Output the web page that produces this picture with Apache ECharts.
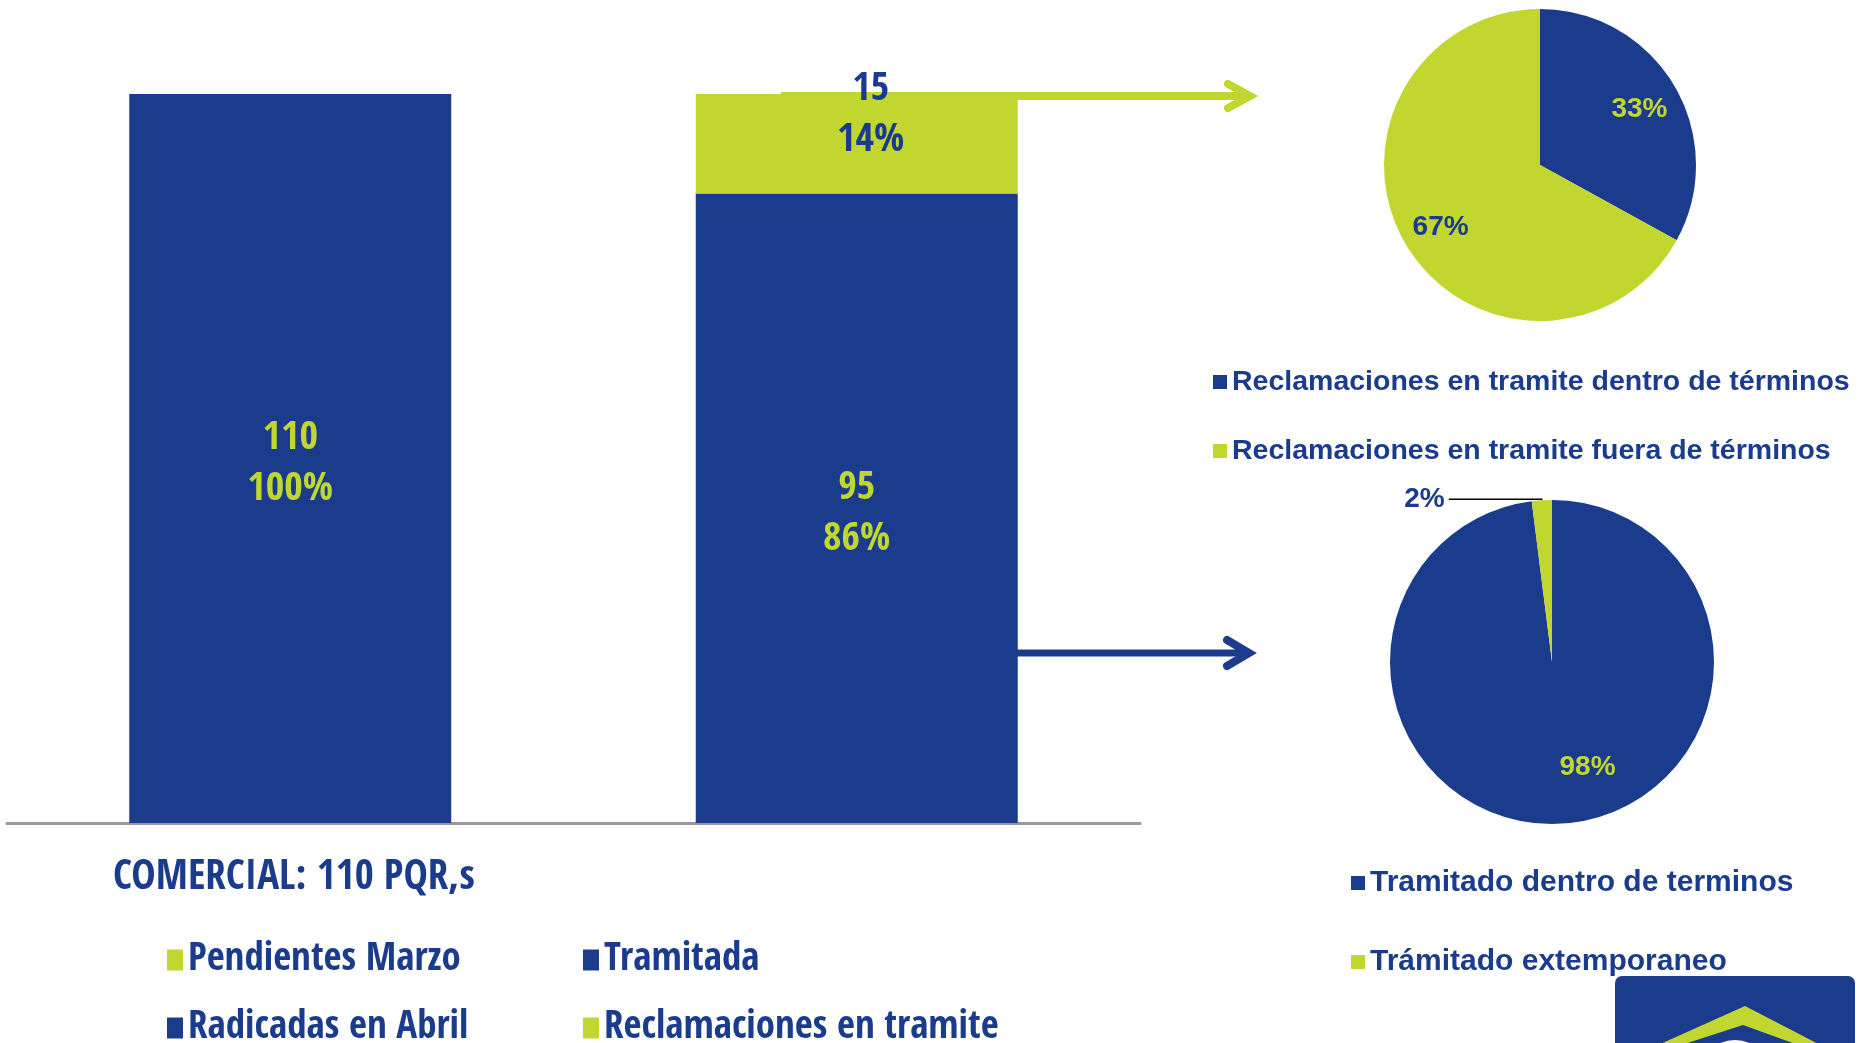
<!DOCTYPE html>
<html>
<head>
<meta charset="utf-8">
<title>COMERCIAL: 110 PQR,s</title>
<script src="https://cdn.jsdelivr.net/npm/echarts@6/dist/echarts.min.js"></script>
<style>
  html, body { margin: 0; padding: 0; background: #fff; }
  #main { width: 1858px; height: 1043px; }
</style>
</head>
<body>
<div id="main"></div>
<script>
// bar chart data
const categories = ['Radicadas', 'Estado'];
const pendientesMarzo = [0, '-'];
const radicadasAbril = [110, '-'];
const tramitada = ['-', 95];
const reclamacionesTramite = ['-', 15];

// pie data (percent)
const pieReclamacionesNames = ['Reclamaciones en tramite dentro de términos', 'Reclamaciones en tramite fuera de términos'];
const pieReclamacionesValues = [33, 67];
const pieTramitadoNames = ['Tramitado dentro de terminos', 'Trámitado extemporaneo'];
const pieTramitadoValues = [98, 2];

const BLUE = '#1b3c8d';
const GREEN = '#c1d72f';
const NARROW = "'Open Sans Condensed', 'Roboto Condensed', sans-serif";
const SANS = "'Liberation Sans', Arial, sans-serif";

const barData = [pendientesMarzo, radicadasAbril, tramitada, reclamacionesTramite];
const totals = categories.map((c, i) =>
  barData.reduce((s, arr) => s + (typeof arr[i] === 'number' ? arr[i] : 0), 0));

function barSeries(name, data, color, labelColor, offset) {
  return {
    name: name,
    type: 'bar',
    stack: 'total',
    data: data,
    barWidth: 322,
    itemStyle: { color: color },
    label: {
      show: true,
      position: 'inside',
      offset: offset,
      color: labelColor,
      fontFamily: NARROW,
      fontWeight: 'bold',
      fontSize: 40,
      lineHeight: 51,
      formatter: function (p) {
        if (!p.value) return '';
        return p.value + '\n' + Math.round(p.value / totals[p.dataIndex] * 100) + '%';
      }
    }
  };
}

// one legend per item so the 2x2 block sits where the reference has it
function barLegend(name, left, top) {
  return {
    data: [name], left: left, top: top, icon: 'rect', padding: 0,
    itemWidth: 16, itemHeight: 21, selectedMode: false,
    textStyle: { fontFamily: NARROW, fontWeight: 'bold', fontSize: 39, lineHeight: 44, color: BLUE }
  };
}

const pieLabel = { fontFamily: SANS, fontWeight: 'bold', fontSize: 28 };

const chart = echarts.init(document.getElementById('main'));
chart.setOption({
  animation: false,
  backgroundColor: '#fff',
  title: {
    text: 'COMERCIAL: 110 PQR,s',
    left: 108,
    top: 853,
    textStyle: { fontFamily: NARROW, fontWeight: 'bold', fontSize: 41, color: BLUE }
  },
  legend: [
    barLegend('Pendientes Marzo', 167, 938),
    barLegend('Radicadas en Abril', 167, 1006),
    barLegend('Tramitada', 583, 938),
    barLegend('Reclamaciones en tramite', 583, 1006),
    {
      data: pieReclamacionesNames,
      orient: 'vertical', left: 1213, top: 365, icon: 'rect', padding: 0,
      itemWidth: 14, itemHeight: 14, itemGap: 35, selectedMode: false,
      textStyle: { fontFamily: SANS, fontWeight: 'bold', fontSize: 28.5, lineHeight: 34, color: BLUE }
    },
    {
      data: pieTramitadoNames,
      orient: 'vertical', left: 1351, top: 866, icon: 'rect', padding: 0,
      itemWidth: 14, itemHeight: 14, itemGap: 45, selectedMode: false,
      textStyle: { fontFamily: SANS, fontWeight: 'bold', fontSize: 30, lineHeight: 34, color: BLUE }
    }
  ],
  grid: { left: 7, right: 718, top: 94, bottom: 220 },
  xAxis: {
    type: 'category',
    data: categories,
    axisLine: { lineStyle: { color: '#999999', width: 3 } },
    axisTick: { show: false },
    axisLabel: { show: false }
  },
  yAxis: { type: 'value', min: 0, max: 110, show: false, splitLine: { show: false } },
  series: [
    barSeries('Pendientes Marzo', pendientesMarzo, GREEN, BLUE, [0, 6]),
    barSeries('Radicadas en Abril', radicadasAbril, BLUE, GREEN, [0, 6]),
    barSeries('Tramitada', tramitada, BLUE, GREEN, [0, 6]),
    barSeries('Reclamaciones en tramite', reclamacionesTramite, GREEN, BLUE, [14, -29]),
    // top pie
    {
      type: 'pie', center: [1540, 165], radius: 156, startAngle: 90,
      avoidLabelOverlap: false, percentPrecision: 0,
      label: { show: false }, labelLine: { show: false },
      data: pieReclamacionesNames.map((n, i) => ({
        name: n, value: pieReclamacionesValues[i], itemStyle: { color: i === 0 ? BLUE : GREEN }
      }))
    },
    {
      // transparent ring that carries the inside labels further out than the default
      type: 'pie', center: [1540, 165], radius: [69, 156], startAngle: 90, silent: true,
      avoidLabelOverlap: false, percentPrecision: 0,
      itemStyle: { color: 'rgba(0,0,0,0)' },
      labelLine: { show: false },
      label: Object.assign({ show: true, position: 'inside', formatter: '{d}%', offset: [0, 3] }, pieLabel),
      data: pieReclamacionesNames.map((n, i) => ({
        name: n, value: pieReclamacionesValues[i], label: { color: i === 0 ? GREEN : BLUE }
      }))
    },
    // bottom pie
    {
      type: 'pie', center: [1552, 662], radius: 162, startAngle: 90,
      avoidLabelOverlap: false, percentPrecision: 0,
      label: { show: false }, labelLine: { show: false },
      data: pieTramitadoNames.map((n, i) => ({
        name: n, value: pieTramitadoValues[i], itemStyle: { color: i === 0 ? BLUE : GREEN },
        label: i === 1 ? Object.assign({ show: true, position: 'outside', formatter: '{d}%', color: BLUE, distanceToLabelLine: 4 }, pieLabel) : { show: false },
        labelLine: i === 1 ? { show: true, length: 1, length2: 93, smooth: false, lineStyle: { color: '#000', width: 1.5 } } : { show: false }
      }))
    },
    {
      type: 'pie', center: [1552, 662], radius: [72, 162], startAngle: 90, silent: true,
      avoidLabelOverlap: false, percentPrecision: 0,
      itemStyle: { color: 'rgba(0,0,0,0)' },
      labelLine: { show: false },
      label: Object.assign({ show: true, position: 'inside', formatter: '{d}%', color: GREEN, offset: [28, -14] }, pieLabel),
      data: pieTramitadoNames.map((n, i) => ({
        name: n, value: pieTramitadoValues[i], label: { show: i === 0 }
      }))
    }
  ],
  graphic: [
    // green arrow from the pending part of the bar to the top pie (under the "15" label)
    { type: 'polyline', z: 1, shape: { points: [[781, 96], [1248, 96]] }, style: { stroke: GREEN, lineWidth: 8, fill: null } },
    { type: 'polyline', z: 1, shape: { points: [[1228, 84], [1250, 96], [1228, 108]] }, style: { stroke: GREEN, lineWidth: 8, lineCap: 'round', fill: null } },
    // blue arrow to the bottom pie
    { type: 'polyline', z: 100, shape: { points: [[1017, 653], [1247, 653]] }, style: { stroke: BLUE, lineWidth: 7, fill: null } },
    { type: 'polyline', z: 100, shape: { points: [[1227, 640], [1249, 653], [1227, 666]] }, style: { stroke: BLUE, lineWidth: 8, lineCap: 'round', fill: null } },
    // logo corner
    { type: 'rect', z: 100, shape: { x: 1615, y: 976, width: 240, height: 100, r: 7 }, style: { fill: BLUE } },
    { type: 'polygon', z: 101, shape: { points: [[1745, 1006], [1830, 1050], [1812, 1050], [1743, 1025], [1666, 1050], [1647, 1050]] }, style: { fill: GREEN } },
    { type: 'circle', z: 101, shape: { cx: 1735, cy: 1078, r: 38 }, style: { fill: '#fff' } }
  ]
});
</script>
</body>
</html>
